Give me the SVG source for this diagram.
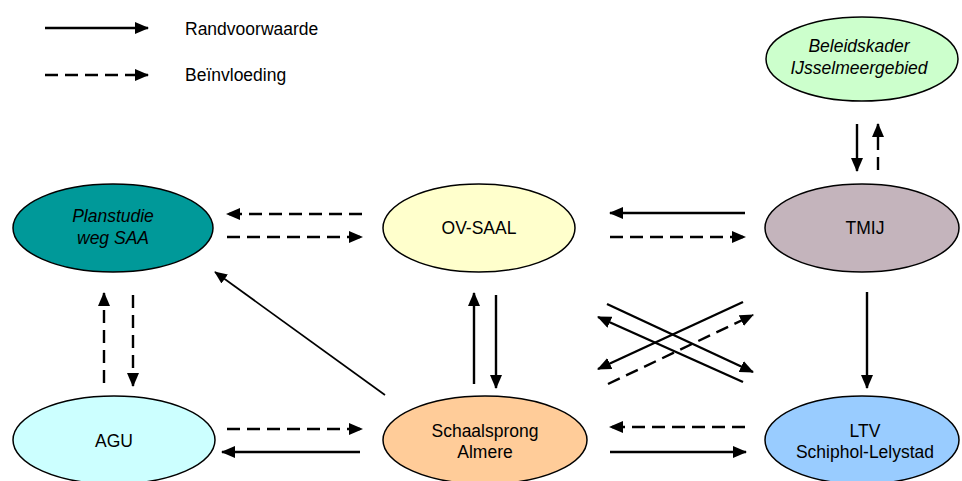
<svg xmlns="http://www.w3.org/2000/svg" width="962" height="481" viewBox="0 0 962 481">
<defs>
<marker id="ah" viewBox="0 0 14 12" refX="13" refY="6" markerWidth="14" markerHeight="12" orient="auto" markerUnits="userSpaceOnUse">
<path d="M0,0 L14,6 L0,12 z" fill="#000"/>
</marker>
<marker id="ahs" viewBox="0 0 14 12" refX="13" refY="6" markerWidth="13" markerHeight="11" orient="auto" markerUnits="userSpaceOnUse">
<path d="M0,0 L14,6 L0,12 z" fill="#000"/>
</marker>
<style>
.n{stroke:#000;stroke-width:1.5}
.t{font-family:"Liberation Sans",Arial,sans-serif;font-size:17.5px;fill:#000;text-anchor:middle}
.i{font-style:italic}
.l{font-family:"Liberation Sans",Arial,sans-serif;font-size:17.5px;fill:#000}
.s{fill:none;stroke:#000;stroke-width:2.4;marker-end:url(#ah)}
.d{fill:none;stroke:#000;stroke-width:2.4;stroke-dasharray:13 7;marker-end:url(#ah)}
.th{fill:none;stroke:#000;stroke-width:1.7;marker-end:url(#ahs)}
</style>
</defs>
<rect width="962" height="481" fill="#fff"/>
<g id="legend">
<line x1="45" y1="28" x2="148" y2="28" class="s" stroke-width="2.6"/>
<text x="185" y="35" class="l">Randvoorwaarde</text>
<line x1="45" y1="75" x2="148" y2="75" class="d" stroke-width="3.2" stroke-dasharray="9 5"/>
<text x="185" y="81" class="l">Beïnvloeding</text>
</g>
<g id="beleidskader">
<ellipse cx="862" cy="59" rx="96" ry="42" fill="#CCFFCC" class="n"/>
<text x="859" y="52" class="t i">Beleidskader</text>
<text x="859" y="74" class="t i">IJsselmeergebied</text>
</g>
<g id="planstudie">
<ellipse cx="113" cy="228" rx="100" ry="44" fill="#009999" class="n"/>
<text x="113" y="222" class="t i">Planstudie</text>
<text x="113" y="244" class="t i">weg SAA</text>
</g>
<g id="ovsaal">
<ellipse cx="479" cy="228" rx="96" ry="44" fill="#FFFFCC" class="n"/>
<text x="479" y="234" class="t">OV-SAAL</text>
</g>
<g id="tmij">
<ellipse cx="862" cy="228" rx="97" ry="44" fill="#C4B4BC" class="n"/>
<text x="865" y="234" class="t">TMIJ</text>
</g>
<g id="agu">
<ellipse cx="114" cy="440" rx="101" ry="44" fill="#CCFFFF" class="n"/>
<text x="114" y="447" class="t">AGU</text>
</g>
<g id="schaalsprong">
<ellipse cx="485" cy="440" rx="102" ry="44" fill="#FFCC99" class="n"/>
<text x="485" y="437" class="t">Schaalsprong</text>
<text x="485" y="458" class="t">Almere</text>
</g>
<g id="ltv">
<ellipse cx="862" cy="440" rx="97" ry="44" fill="#99CCFF" class="n"/>
<text x="865" y="437" class="t">LTV</text>
<text x="865" y="458" class="t">Schiphol-Lelystad</text>
</g>
<g id="connectors">
<line x1="857" y1="124" x2="857" y2="171" class="s" stroke-width="3"/>
<line x1="878" y1="170" x2="878" y2="124" class="d" stroke-width="3" stroke-dasharray="8 5"/>
<line x1="362" y1="214" x2="227" y2="214" class="d"/>
<line x1="227" y1="237" x2="362" y2="237" class="d"/>
<line x1="745" y1="213" x2="610" y2="213" class="s"/>
<line x1="610" y1="237" x2="745" y2="237" class="d"/>
<line x1="867" y1="292" x2="867" y2="388" class="s"/>
<line x1="104" y1="383" x2="104" y2="293" class="d" stroke-width="3"/>
<line x1="133" y1="295" x2="133" y2="386" class="d" stroke-width="1.8"/>
<line x1="385" y1="395" x2="215" y2="272" class="th"/>
<line x1="474" y1="384" x2="474" y2="293" class="s" stroke-width="3"/>
<line x1="496" y1="295" x2="496" y2="388" class="s" stroke-width="3"/>
<line x1="227" y1="429" x2="362" y2="429" class="d"/>
<line x1="360" y1="452" x2="222" y2="452" class="s"/>
<line x1="745" y1="427" x2="610" y2="427" class="d" stroke-width="3"/>
<line x1="610" y1="452" x2="746" y2="452" class="s"/>
<line x1="607" y1="304" x2="753" y2="372" class="s"/>
<line x1="743" y1="382" x2="598" y2="317" class="s"/>
<line x1="743" y1="302" x2="598" y2="369" class="s" stroke-width="3.4"/>
<line x1="608" y1="384" x2="753" y2="315" class="d" stroke-width="2.6"/>
</g>
</svg>
